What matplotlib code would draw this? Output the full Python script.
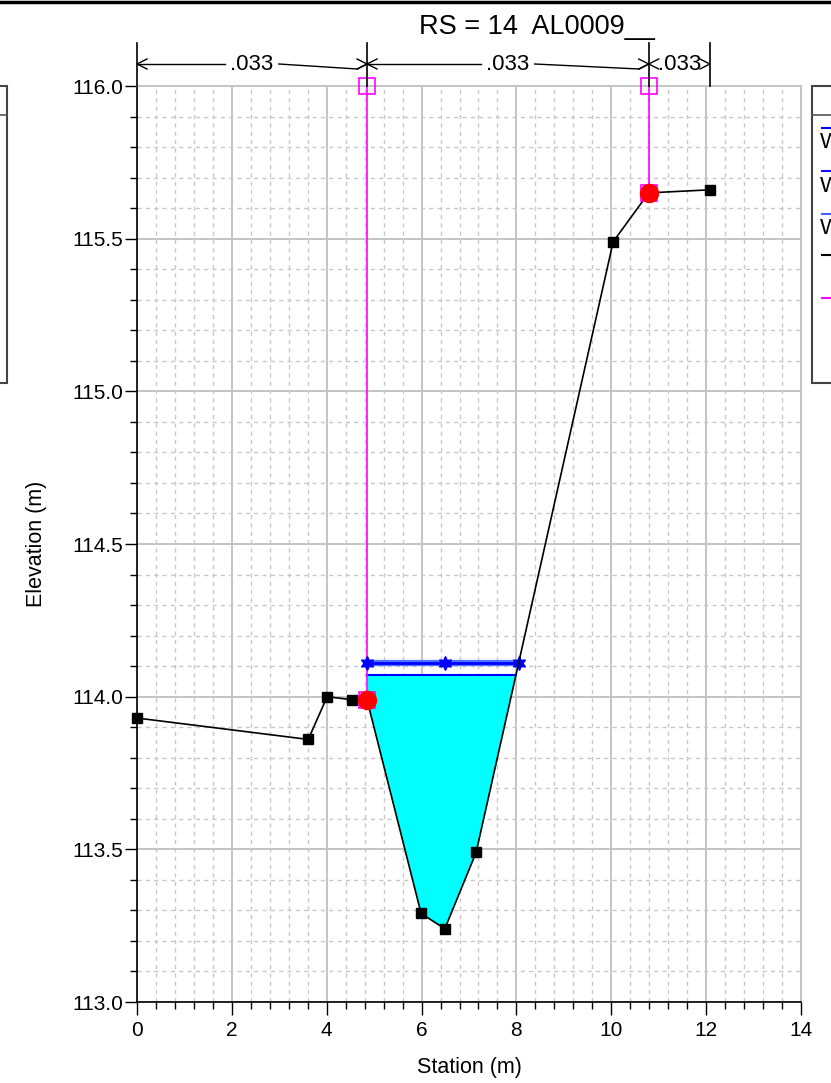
import numpy as np
import matplotlib
matplotlib.use("Agg")
import matplotlib.pyplot as plt
from matplotlib.patches import Rectangle
from matplotlib.lines import Line2D
from matplotlib.ticker import MultipleLocator, FormatStrFormatter

plt.rcParams['font.family'] = ['Liberation Sans', 'DejaVu Sans']

# ---- data ----
title = "RS = 14  AL0009__"
station = [0.0, 3.61, 4.01, 4.53, 4.85, 5.99, 6.49, 7.15, 10.04, 10.79, 12.08]
elev = [113.93, 113.86, 114.00, 113.99, 113.99, 113.29, 113.24, 113.49, 115.49, 115.65, 115.66]
bank_sta = [4.85, 10.79]
bank_elev = [113.99, 115.65]
levee_top = 116.0
ws_fill = 114.07
ws_upper = 114.11
n_breaks = [0.0, 4.85, 10.79, 12.08]
n_values = [".033", ".033", ".033"]
legend_labels = ["WS PF 3", "WS PF 2", "WS PF 1"]

W, H = 831, 1083
fig = plt.figure(figsize=(W / 100, H / 100), dpi=100)
ax = fig.add_axes([137 / W, 1 - 1002 / H, (801 - 137) / W, (1002 - 86) / H])
ax.set_xlim(0, 14)
ax.set_ylim(113.0, 116.0)

# grid
ax.xaxis.set_major_locator(MultipleLocator(2))
ax.xaxis.set_minor_locator(MultipleLocator(0.4))
ax.yaxis.set_major_locator(MultipleLocator(0.5))
ax.yaxis.set_minor_locator(MultipleLocator(0.1))
ax.grid(which='major', color='#c4c4c4', lw=1.4, ls='-', zorder=0)
ax.grid(which='minor', color='#c8c8c8', lw=1.0, ls=(0, (3, 3)), zorder=0)
ax.set_axisbelow(True)
ax.tick_params(which='major', direction='out', length=9, width=1, labelsize=15)
ax.tick_params(axis='y', which='major', pad=1)
ax.tick_params(axis='x', which='major', pad=5)
ax.tick_params(which='minor', direction='out', length=5, width=1)
ax.yaxis.set_major_formatter(FormatStrFormatter('%.1f'))
for s in ['top', 'right']:
    ax.spines[s].set_color('#c4c4c4')
    ax.spines[s].set_linewidth(1.4)
for s in ['left', 'bottom']:
    ax.spines[s].set_color('black')
    ax.spines[s].set_linewidth(1.2)

ax.set_xlabel("Station (m)", fontsize=15.5)
ax.set_ylabel("Elevation (m)", fontsize=15.5)
ax.xaxis.set_label_coords(0.5, -0.060)
ax.yaxis.set_label_coords(-0.136, 0.5)

st = np.array(station)
el = np.array(elev)

# water fill
rise = slice(7, 9)
x_right_fill = float(np.interp(ws_fill, el[rise], st[rise]))
x_right_up = float(np.interp(ws_upper, el[rise], st[rise]))
inner = [s for s in station if bank_sta[0] < s < x_right_fill]
xs = np.array([bank_sta[0]] + inner + [x_right_fill])
gy = np.interp(xs, st, el)
ax.fill_between(xs, gy, ws_fill, color='#00ffff', zorder=2, lw=0)
ax.plot([bank_sta[0], x_right_fill], [ws_fill, ws_fill], color='#0000ff', lw=1.5, zorder=3)

# upper WS lines
thal = station[int(np.argmin(el))]
ax.plot([bank_sta[0], x_right_up], [ws_upper, ws_upper], color='#5070ff', lw=4.5, zorder=3,
        solid_capstyle='butt')
ax.plot([bank_sta[0], x_right_up], [ws_upper, ws_upper], color='#0000ff', lw=2, zorder=3,
        solid_capstyle='butt')
ax.plot([bank_sta[0], thal, x_right_up], [ws_upper] * 3, ls='none', marker=(6, 1, 0), ms=10,
        color='#0000ff', mec='#0000ff', zorder=4)

# levee / ineffective (magenta)
for bs, be in zip(bank_sta, bank_elev):
    ax.plot([bs, bs], [be, levee_top], color='#ff00ff', lw=1.2, zorder=3, clip_on=False)
    ax.plot([bs, bs], [be, levee_top], ls='none', marker='s', ms=12, mfc='none',
            mec='#ff00ff', mew=1.2, zorder=6, clip_on=False)

# ground
ax.plot(st, el, color='black', lw=1.2, marker='s', ms=7, zorder=5, clip_on=False)
# bank stations
ax.plot(bank_sta, bank_elev, ls='none', marker='o', ms=13, color='#ff0000', zorder=6)

# ---- n value annotations ----
def px2y(p):
    return 116.0 + (86 - p) / (916 / 3.0)

unit = 664 / 14.0
y_top = px2y(43)
y_arr = px2y(64)
y_slant = px2y(69)
for xb in n_breaks:
    ax.plot([xb, xb], [116.0, y_top], color='black', lw=1.2, clip_on=False, zorder=7)

ah = 10 / unit
aw = px2y(86 - 5) - 116.0

def arrowhead(xt, direction):
    xb = xt - direction * ah
    ax.plot([xb, xt, xb], [y_arr + aw, y_arr, y_arr - aw], color='black', lw=1.0,
            clip_on=False, zorder=7)

for i, lab in enumerate(n_values):
    x0, x1 = n_breaks[i], n_breaks[i + 1]
    xm = (x0 + x1) / 2
    ax.text(xm, y_arr, lab, ha='center', va='center', fontsize=16, clip_on=False, zorder=8)
    half = 22 / unit
    if x1 - x0 > 2 * half + 0.6:
        ax.plot([x0, xm - half - 0.1], [y_arr, y_arr], color='black', lw=1.0, clip_on=False)
        ax.plot([xm + half + 0.1, x1 - 0.2, x1], [y_arr, y_slant, y_arr], color='black',
                lw=1.0, clip_on=False)
    arrowhead(x0, -1)
    arrowhead(x1, 1)

# ---- title and frame decorations ----
fig.text(537 / W, 1 - 27 / H, title, ha='center', va='center', fontsize=19.5)
fig.add_artist(Line2D([0, 1], [1 - 2 / H, 1 - 2 / H], color='black', lw=2.5))

# right legend (cut by the figure edge, as in the reference)
lx0, ly0, ly1 = 812 / W, 1 - 383 / H, 1 - 86 / H
fig.add_artist(Rectangle((lx0, ly0), 0.2, ly1 - ly0, transform=fig.transFigure,
                         facecolor='white', edgecolor='#444444', lw=1.5))
fig.add_artist(Line2D([lx0, 1.0], [1 - 115 / H] * 2, color='#555555', lw=1.2))
leg_colors = ['#0000ff', '#1010ff', '#4060ff']
for k, (c, lab) in enumerate(zip(leg_colors, legend_labels)):
    yl = 128 + 43 * k
    fig.add_artist(Line2D([822 / W, 1.0], [1 - yl / H] * 2, color=c, lw=1.5))
    fig.text(820 / W, 1 - (yl + 15) / H, lab, ha='left', va='center', fontsize=16)
fig.add_artist(Line2D([822 / W, 1.0], [1 - 255 / H] * 2, color='black', lw=1.5))
fig.add_artist(Line2D([822 / W, 1.0], [1 - 298 / H] * 2, color='#ff00ff', lw=1.5))

# left legend (mostly outside)
fig.add_artist(Rectangle((-0.2, ly0), 0.2 + 7 / W, ly1 - ly0, transform=fig.transFigure,
                         facecolor='white', edgecolor='#444444', lw=1.5))
fig.add_artist(Line2D([0, 7 / W], [1 - 115 / H] * 2, color='#555555', lw=1.2))

fig.savefig("out.png", dpi=100)
